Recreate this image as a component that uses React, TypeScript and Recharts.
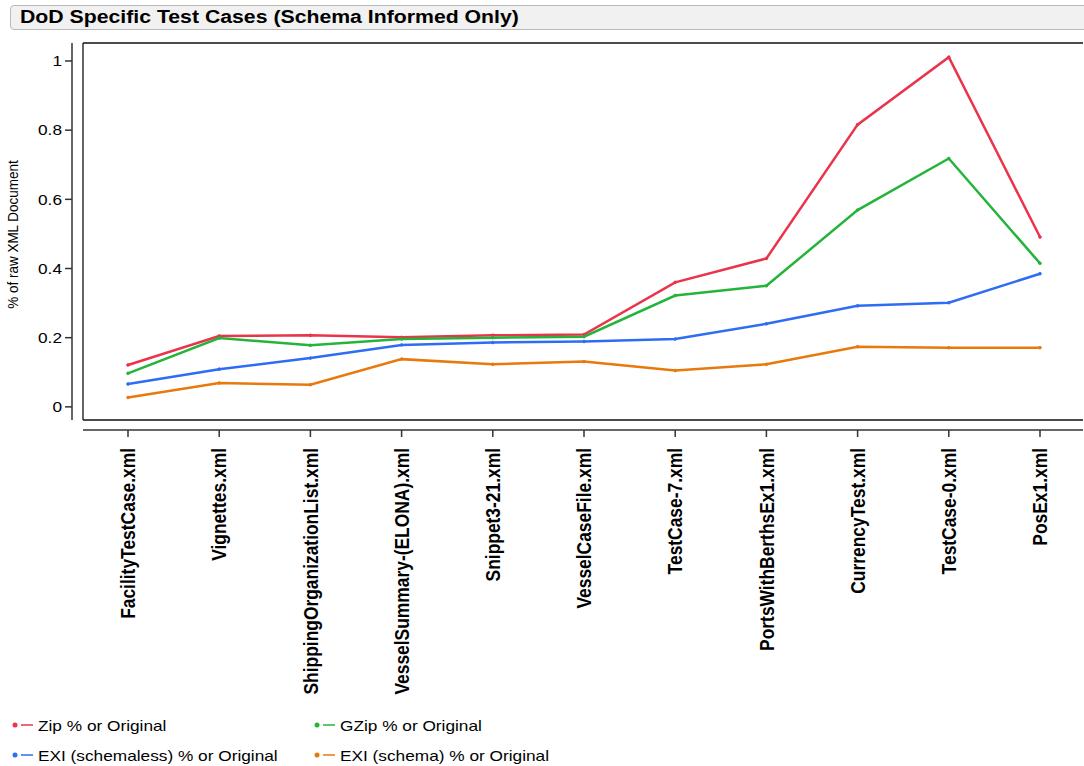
import { LineChart, Line, XAxis, YAxis, Legend } from 'recharts';

const files = [
  'FacilityTestCase.xml',
  'Vignettes.xml',
  'ShippingOrganizationList.xml',
  'VesselSummary-(ELONA).xml',
  'Snippet3-21.xml',
  'VesselCaseFile.xml',
  'TestCase-7.xml',
  'PortsWithBerthsEx1.xml',
  'CurrencyTest.xml',
  'TestCase-0.xml',
  'PosEx1.xml',
];

const zipPct = [0.121, 0.205, 0.207, 0.201, 0.207, 0.209, 0.36, 0.429, 0.816, 1.011, 0.491];
const gzipPct = [0.097, 0.199, 0.178, 0.196, 0.2, 0.203, 0.322, 0.35, 0.569, 0.718, 0.415];
const exiSchemalessPct = [0.066, 0.109, 0.141, 0.179, 0.186, 0.189, 0.196, 0.24, 0.292, 0.301, 0.385];
const exiSchemaPct = [0.027, 0.069, 0.064, 0.138, 0.123, 0.131, 0.105, 0.123, 0.174, 0.171, 0.171];

const yTicks = [0, 0.2, 0.4, 0.6, 0.8, 1];
const yDomain = [-0.038, 1.052];

const series = [
  { key: 'zip', name: 'Zip % or Original', color: '#e9344b' },
  { key: 'gzip', name: 'GZip % or Original', color: '#24b43a' },
  { key: 'exiLess', name: 'EXI (schemaless) % or Original', color: '#2f6cf4' },
  { key: 'exiSchema', name: 'EXI (schema) % or Original', color: '#e8790c' },
];

const data = files.map((file, i) => ({
  file,
  zip: zipPct[i],
  gzip: gzipPct[i],
  exiLess: exiSchemalessPct[i],
  exiSchema: exiSchemaPct[i],
}));

const font = '"Liberation Sans", Arial, sans-serif';
const stretch = 1.15; // text in the picture is a bit wider than plain Arial

function FileTick({ x, y, payload }: any) {
  return (
    <text
      x={0}
      y={0}
      dy="0.36em"
      transform={`translate(${x},${y + 9}) scale(${stretch},1) rotate(-90)`}
      textAnchor="end"
      fontSize={17.4}
      fontWeight="bold"
      fill="#000"
    >
      {payload.value}
    </text>
  );
}

function ValueTick({ x, y, payload }: any) {
  return (
    <text x={0} y={0} dy="0.35em" transform={`translate(${x - 1},${y}) scale(${stretch},1)`} textAnchor="end" fontSize={15} fill="#000">
      {payload.value}
    </text>
  );
}

function YLabel({ viewBox }: any) {
  const cx = viewBox.x + 18;
  const cy = viewBox.y + viewBox.height / 2 + 3;
  return (
    <text transform={`translate(${cx},${cy}) scale(${stretch},1) rotate(-90)`} textAnchor="middle" fontSize={13.5} fill="#000">
      % of raw XML Document
    </text>
  );
}

function LegendBox() {
  return (
    <div style={{ position: 'relative', height: 56, fontFamily: font, fontSize: 15, color: '#000' }}>
      {series.map((s, i) => (
        <div
          key={s.key}
          style={{
            position: 'absolute',
            left: i % 2 ? 312 : 10,
            top: Math.floor(i / 2) * 30,
            height: 30,
            display: 'flex',
            alignItems: 'center',
            whiteSpace: 'nowrap',
          }}
        >
          <svg width={28} height={10}>
            <circle cx={5} cy={5} r={2.5} fill={s.color} />
            <line x1={11} x2={23} y1={5} y2={5} stroke={s.color} strokeWidth={1.5} />
          </svg>
          <span style={{ display: 'inline-block', transform: `scaleX(${stretch})`, transformOrigin: 'left center' }}>{s.name}</span>
        </div>
      ))}
    </div>
  );
}

// keep every axis prop stable so the axes keep their stacking order
const boxLine = { stroke: '#111', strokeWidth: 1.3 };
const axisLine = { stroke: '#333', strokeWidth: 1.5 };
const xPad = { left: 45, right: 43 };
const fileTick = <FileTick />;
const valueTick = <ValueTick />;
const yLabel = <YLabel />;
const legendBox = <LegendBox />;
const legendWrap = { left: 0, width: 1084 };
const chartMargin = { top: 42, right: 1, bottom: 0, left: 0 };

export default function App() {
  return (
    <div style={{ position: 'absolute', left: 0, top: 0, width: 1084, height: 766, fontFamily: font, background: '#fff' }}>
      <LineChart width={1084} height={766} data={data} margin={chartMargin}>
        <XAxis xAxisId="x0top" orientation="top" dataKey="file" height={1} axisLine={boxLine} tickLine={false} tick={false} padding={xPad} />
        <XAxis xAxisId="x1gap" dataKey="file" height={10} axisLine={boxLine} tickLine={false} tick={false} padding={xPad} />
        <XAxis
          xAxisId="x2cat"
          dataKey="file"
          height={280}
          interval={0}
          padding={xPad}
          axisLine={axisLine}
          tickLine={axisLine}
          tickSize={7}
          tick={fileTick}
        />
        <YAxis yAxisId="y1gap" width={11} domain={yDomain} ticks={yTicks} axisLine={boxLine} tickLine={false} tick={false} />
        <YAxis
          yAxisId="y2val"
          width={72}
          domain={yDomain}
          ticks={yTicks}
          type="number"
          allowDataOverflow
          axisLine={axisLine}
          tickLine={axisLine}
          tickSize={7}
          tick={valueTick}
          label={yLabel}
        />
        <YAxis yAxisId="y3right" orientation="right" width={0} domain={yDomain} axisLine={boxLine} tickLine={false} tick={false} />
        {series.map((s) => (
          <Line
            key={s.key}
            xAxisId="x2cat"
            yAxisId="y2val"
            dataKey={s.key}
            name={s.name}
            type="linear"
            stroke={s.color}
            strokeWidth={2.5}
            dot={{ r: 1.3, fill: s.color, stroke: s.color, strokeWidth: 1 }}
            isAnimationActive={false}
          />
        ))}
        <Legend verticalAlign="bottom" content={legendBox} wrapperStyle={legendWrap} />
      </LineChart>
      <div
        style={{
          position: 'absolute',
          left: 10,
          top: 5,
          width: 1090,
          height: 25,
          boxSizing: 'border-box',
          border: '1px solid #b9b9b9',
          borderRadius: 4,
          background: '#f1f1f1',
          color: '#000',
          overflow: 'hidden',
        }}
      >
        <span
          style={{
            display: 'inline-block',
            fontWeight: 'bold',
            fontSize: 18,
            lineHeight: '23px',
            marginLeft: 9,
            transform: 'scaleX(1.18)',
            transformOrigin: 'left center',
            whiteSpace: 'nowrap',
          }}
        >
          DoD Specific Test Cases (Schema Informed Only)
        </span>
      </div>
    </div>
  );
}
